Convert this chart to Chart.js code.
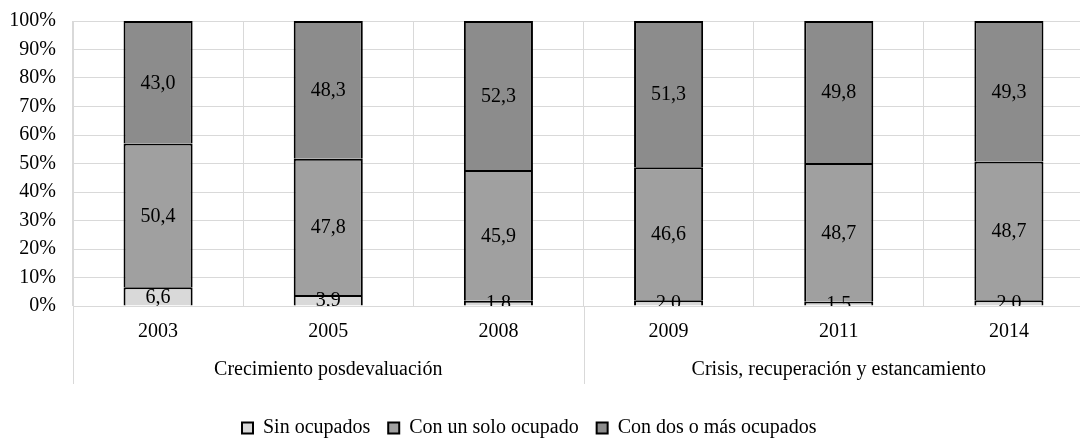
<!DOCTYPE html>
<html>
<head>
<meta charset="utf-8">
<script src="https://cdn.jsdelivr.net/npm/chart.js@4.4.0/dist/chart.umd.min.js"></script>
<style>
    html, body { margin: 0; padding: 0; background: #fff; overflow: hidden; }
    #wrap { width: 1100px; height: 441px; }
</style>
</head>
<body>
<div id="wrap"><canvas id="chart"></canvas></div>
<script>
// Hogares por cantidad de ocupados (%)
const years = ["2003", "2005", "2008", "2009", "2011", "2014"];
const groupLabels = ["Crecimiento posdevaluación", "Crisis, recuperación y estancamiento"];
const groupSizes = [3, 3];

const sinOcupados = [6.6, 3.9, 1.8, 2.0, 1.5, 2.0];
const unOcupado = [50.4, 47.8, 45.9, 46.6, 48.7, 48.7];
const dosOMas = [43.0, 48.3, 52.3, 51.3, 49.8, 49.3];

const seriesNames = ["Sin ocupados", "Con un solo ocupado", "Con dos o más ocupados"];
const seriesColors = ["#d9d9d9", "#a0a0a0", "#8c8c8c"];

const FONT = '"Liberation Serif", "Times New Roman", serif';

// 100% stacked: share of each year's total
const totals = years.map((_, i) => sinOcupados[i] + unOcupado[i] + dosOMas[i]);
const share = arr => arr.map((v, i) => v / totals[i] * 100);

const labelPlugin = {
    id: "segLabels",
    afterDatasetsDraw(chart) {
        const ctx = chart.ctx;
        const area = chart.chartArea;
        ctx.save();
        ctx.beginPath();
        ctx.rect(area.left, area.top, area.right - area.left, area.bottom - area.top);
        ctx.clip();
        ctx.font = "20px " + FONT;
        ctx.fillStyle = "#000";
        ctx.textAlign = "center";
        ctx.textBaseline = "middle";
        chart.data.datasets.forEach((ds, di) => {
            chart.getDatasetMeta(di).data.forEach((bar, i) => {
                const txt = ds.raw[i].toFixed(1).replace(".", ",");
                ctx.fillText(txt, bar.x, (bar.y + bar.base) / 2 + 1);
            });
        });
        ctx.restore();
    }
};

const groupPlugin = {
    id: "groups",
    afterLayout(chart) {
        // legend starts left of centre and a little lower, as in the original
        chart.legend.left = 224;
        chart.legend.top += 7;
        chart.legend.bottom += 7;
    },
    afterDraw(chart) {
        const x = chart.scales.x;
        const area = chart.chartArea;
        const ctx = chart.ctx;
        const step = x.getPixelForValue(1) - x.getPixelForValue(0);
        ctx.save();
        ctx.strokeStyle = "#d9d9d9";
        ctx.lineWidth = 1;
        ctx.font = "20px " + FONT;
        ctx.fillStyle = "#000";
        ctx.textAlign = "center";
        ctx.textBaseline = "middle";
        let start = 0;
        groupSizes.forEach((n, g) => {
            const left = x.getPixelForValue(start) - step / 2;
            const right = x.getPixelForValue(start + n - 1) + step / 2;
            ctx.beginPath();
            ctx.moveTo(Math.round(left) + 0.5, area.bottom);
            ctx.lineTo(Math.round(left) + 0.5, area.bottom + 78);
            ctx.moveTo(Math.round(right) + 0.5, area.bottom);
            ctx.lineTo(Math.round(right) + 0.5, area.bottom + 78);
            ctx.stroke();
            ctx.fillText(groupLabels[g], (left + right) / 2, area.bottom + 64);
            start += n;
        });
        ctx.restore();
    }
};

new Chart(document.getElementById("chart"), {
    type: "bar",
    data: {
        labels: years,
        datasets: [sinOcupados, unOcupado, dosOMas].map((arr, k) => ({
            label: seriesNames[k],
            data: share(arr),
            raw: arr,
            backgroundColor: seriesColors[k],
            borderColor: "#000",
            borderWidth: 2,
            categoryPercentage: 0.406,
            barPercentage: 1
        }))
    },
    options: {
        responsive: true,
        maintainAspectRatio: false,
        animation: false,
        layout: { padding: { top: 21, right: 6, left: 0, bottom: 0 } },
        scales: {
            x: {
                stacked: true,
                grid: { offset: true, color: "#d9d9d9", drawTicks: false },
                border: { display: false },
                ticks: { color: "#000", font: { family: FONT, size: 20 }, padding: 14 },
                afterFit: s => { s.height = 87; }
            },
            y: {
                stacked: true,
                min: 0,
                max: 100,
                grid: { color: "#d9d9d9", drawTicks: false },
                border: { display: true, color: "#d9d9d9" },
                ticks: {
                    stepSize: 10,
                    color: "#000",
                    font: { family: FONT, size: 20 },
                    padding: 17,
                    callback: v => v + "%"
                },
                afterFit: s => {
                    s.width = 73;
                    s.paddingTop = 0;
                    s.paddingBottom = 0;
                }
            }
        },
        plugins: {
            legend: {
                position: "bottom",
                align: "start",
                labels: {
                    boxWidth: 11,
                    boxHeight: 11,
                    padding: 18,
                    color: "#000",
                    font: { family: FONT, size: 20 }
                }
            },
            tooltip: { enabled: false }
        }
    },
    plugins: [labelPlugin, groupPlugin]
});
</script>
</body>
</html>
